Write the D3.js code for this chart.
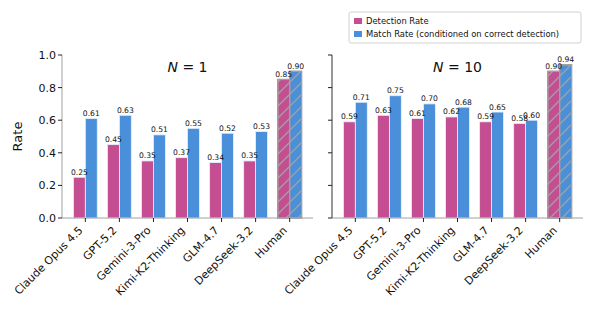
<!DOCTYPE html>
<html>
<head>
<meta charset="utf-8">
<script src="https://cdn.jsdelivr.net/npm/d3@7"></script>
<style>
  body { margin: 0; background: #fff; }
  svg { font-family: "DejaVu Sans", sans-serif; }
</style>
</head>
<body>
<svg id="chart" width="595" height="314"></svg>
<script>
const models = ["Claude Opus 4.5", "GPT-5.2", "Gemini-3-Pro", "Kimi-K2-Thinking", "GLM-4.7", "DeepSeek-3.2", "Human"];
const detectionN1 = [0.25, 0.45, 0.35, 0.37, 0.34, 0.35, 0.85];
const matchN1 = [0.61, 0.63, 0.51, 0.55, 0.52, 0.53, 0.90];
const detectionN10 = [0.59, 0.63, 0.61, 0.62, 0.59, 0.58, 0.90];
const matchN10 = [0.71, 0.75, 0.70, 0.68, 0.65, 0.60, 0.94];
const yTicks = [0.0, 0.2, 0.4, 0.6, 0.8, 1.0];
const seriesNames = ["Detection Rate", "Match Rate (conditioned on correct detection)"];

const PINK = "#c44e91", BLUE = "#4a8fd9", GRAY = "#a0a0a0";
const svg = d3.select("#chart");

const defs = svg.append("defs");
defs.append("pattern")
  .attr("id", "hatch")
  .attr("patternUnits", "userSpaceOnUse")
  .attr("width", 12).attr("height", 12)
  .append("path")
  .attr("d", "M0,12 L12,0 M-3,3 L3,-3 M9,15 L15,9")
  .attr("stroke", GRAY).attr("stroke-width", 1.4);

const plotTop = 55, plotBottom = 218;
const y = d3.scaleLinear().domain([0, 1]).range([plotBottom, plotTop]);
const barW = 0.35;

const panels = [
  {left: 62, right: 313, det: detectionN1, mat: matchN1, title: "1", labels: true},
  {left: 332, right: 583, det: detectionN10, mat: matchN10, title: "10", labels: false}
];

panels.forEach(p => {
  const x = d3.scaleLinear().domain([-0.685, 6.685]).range([p.left, p.right]);
  const g = svg.append("g");
  const unit = x(1) - x(0);
  const series = [[p.det, PINK, -1], [p.mat, BLUE, 0]];

  // bars
  series.forEach(([vals, col, off]) => {
    const bars = g.append("g").selectAll("g").data(vals).join("g");
    bars.append("rect")
      .attr("x", (d, i) => x(i + off * barW))
      .attr("width", barW * unit)
      .attr("y", d => y(d))
      .attr("height", d => y(0) - y(d))
      .attr("fill", col)
      .attr("stroke", (d, i) => models[i] === "Human" ? GRAY : "#e6f0fb")
      .attr("stroke-width", (d, i) => models[i] === "Human" ? 1.2 : 0.8);
    bars.filter((d, i) => models[i] === "Human").append("rect")
      .attr("x", x(6 + off * barW))
      .attr("width", barW * unit)
      .attr("y", d => y(d))
      .attr("height", d => y(0) - y(d))
      .attr("fill", "url(#hatch)")
      .attr("stroke", GRAY).attr("stroke-width", 1.2);
  });

  // value labels, on top of all bars
  series.forEach(([vals, col, off]) => {
    g.append("g").selectAll("text").data(vals).join("text")
      .attr("x", (d, i) => x(i + off * barW + barW / 2))
      .attr("y", d => y(d) - 2.5)
      .attr("text-anchor", "middle")
      .attr("font-size", 7.6)
      .attr("fill", "#111")
      .text(d => d.toFixed(2));
  });

  // spines
  g.append("line").attr("x1", p.left).attr("x2", p.right).attr("y1", plotBottom).attr("y2", plotBottom)
    .attr("stroke", GRAY).attr("stroke-width", 1);
  g.append("line").attr("x1", p.left).attr("x2", p.left).attr("y1", plotTop).attr("y2", plotBottom)
    .attr("stroke", p.labels ? GRAY : "#333").attr("stroke-width", 1);

  // y ticks
  yTicks.forEach(t => {
    g.append("line").attr("x1", p.left - 4).attr("x2", p.left).attr("y1", y(t)).attr("y2", y(t))
      .attr("stroke", "#222").attr("stroke-width", 1);
    if (p.labels) {
      g.append("text").attr("x", p.left - 6).attr("y", y(t)).attr("dy", "0.36em")
        .attr("text-anchor", "end").attr("font-size", 11).attr("fill", "#111")
        .text(t.toFixed(1));
    }
  });

  // x ticks
  models.forEach((m, i) => {
    g.append("line").attr("x1", x(i)).attr("x2", x(i)).attr("y1", plotBottom).attr("y2", plotBottom + 4)
      .attr("stroke", "#222").attr("stroke-width", 1);
    g.append("text")
      .attr("transform", `translate(${x(i) - 2},${plotBottom + 13}) rotate(-45)`)
      .attr("text-anchor", "end")
      .attr("font-size", 11)
      .attr("fill", "#111")
      .text(m);
  });

  // panel title
  const cx = (p.left + p.right) / 2;
  const t = g.append("text").attr("x", cx).attr("y", 72).attr("text-anchor", "middle")
    .attr("font-size", 14).attr("fill", "#111");
  t.append("tspan").attr("font-style", "italic").text("N");
  t.append("tspan").text(" = " + p.title);
});

svg.append("text")
  .attr("transform", `translate(22,${(plotTop + plotBottom) / 2}) rotate(-90)`)
  .attr("text-anchor", "middle").attr("font-size", 13).attr("fill", "#111")
  .text("Rate");

// legend
const lg = svg.append("g").attr("transform", "translate(349,12)");
lg.append("rect").attr("width", 232).attr("height", 31).attr("rx", 2)
  .attr("fill", "#fff").attr("stroke", "#d0d0d0").attr("stroke-width", 1);
seriesNames.forEach((s, i) => {
  lg.append("rect").attr("x", 5).attr("y", 6 + i * 13).attr("width", 8).attr("height", 6)
    .attr("fill", i === 0 ? PINK : BLUE);
  lg.append("text").attr("x", 17).attr("y", 12 + i * 13)
    .attr("font-size", 8.4).attr("fill", "#111").text(s);
});
</script>
</body>
</html>
